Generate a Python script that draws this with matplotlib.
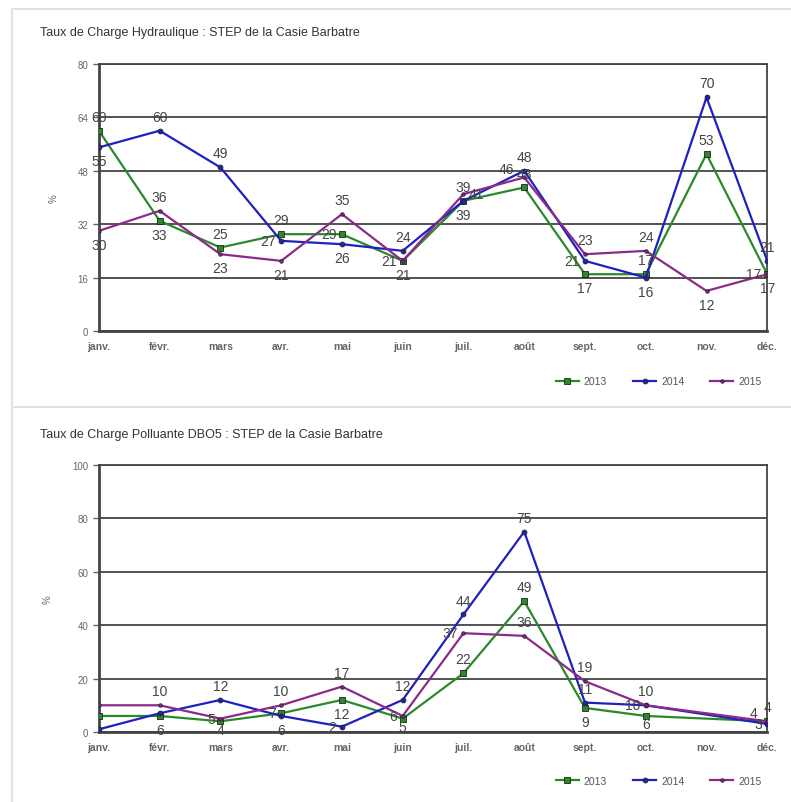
import matplotlib.pyplot as plt
import numpy as np
from matplotlib.lines import Line2D

plt.rcParams['font.family'] = ['Liberation Sans', 'DejaVu Sans']

mois = ['janv.', 'févr.', 'mars', 'avr.', 'mai', 'juin', 'juil.', 'août', 'sept.', 'oct.', 'nov.', 'déc.']
annees = ['2013', '2014', '2015']

# Taux de charge hydraulique (%)
hydro_2013 = [60, 33, 25, 29, 29, 21, 39, 43, 17, 17, 53, 17]
hydro_2014 = [55, 60, 49, 27, 26, 24, 39, 48, 21, 16, 70, 21]
hydro_2015 = [30, 36, 23, 21, 35, 21, 41, 46, 23, 24, 12, 17]

# Taux de charge polluante DBO5 (%) - pas de valeur en novembre
dbo_2013 = [6, 6, 4, 7, 12, 5, 22, 49, 9, 6, np.nan, 4]
dbo_2014 = [1, 7, 12, 6, 2, 12, 44, 75, 11, 10, np.nan, 3]
dbo_2015 = [10, 10, 5, 10, 17, 6, 37, 36, 19, 10, np.nan, 4]

colors = ['#2a8a2a', '#2020c0', '#8a2a8a']
markers = ['s', 'o', 'o']
msizes = [4, 3.5, 2.5]

# placement des etiquettes : a=dessus, b=dessous, l=gauche, r=droite,
# L=haut-gauche, B=dessous serre, n=aucune
place_hydro = ['abaallaabaab', 'baalbabalbaa', 'babbabrLaabl']
place_dbo = ['nbBlbBaabBnL', 'nnablaaaalnl', 'nalaallaaana']
offs = {'a': (0, 5, 'center', 'bottom'), 'b': (0, -5, 'center', 'top'),
        'l': (-4, 0, 'right', 'center'), 'r': (4, 0, 'left', 'center'),
        'L': (-7, 1, 'right', 'bottom'), 'B': (0, -1, 'center', 'top')}

x = np.arange(len(mois))

fig = plt.figure(figsize=(7.91, 8.03), dpi=100)


def panel(rect, series, ymax, step, title, ty, ly, places):
    ax = fig.add_axes(rect)
    for i, vals in enumerate(series):
        v = np.array(vals, dtype=float)
        m = ~np.isnan(v)
        ax.plot(x[m], v[m], color=colors[i], lw=1.6, marker=markers[i],
                ms=msizes[i], mfc=colors[i], mec='#222222', mew=0.6, zorder=3)
        for j in np.where(m)[0]:
            p = places[i][j]
            if p == 'n':
                continue
            dx, dy, ha, va = offs[p]
            ax.annotate(f'{int(v[j])}', (x[j], v[j]), xytext=(dx, dy),
                        textcoords='offset points', ha=ha, va=va,
                        fontsize=10, color='#444444', zorder=4)
    ax.set_xlim(0, 11)
    ax.set_ylim(0, ymax)
    ax.set_yticks(np.arange(0, ymax + 1, step))
    ax.yaxis.grid(True, color='#444444', lw=1.3)
    ax.set_axisbelow(True)
    ax.set_xticks(x)
    ax.set_xticklabels(mois, fontsize=7.5, fontweight='bold', color='#666666')
    ax.tick_params(axis='x', length=0, pad=7)
    ax.tick_params(axis='y', labelsize=7, colors='#666666', length=4, width=1)
    for s in ax.spines.values():
        s.set_color('#444444')
    ax.spines['left'].set_linewidth(2)
    ax.spines['bottom'].set_linewidth(2)
    ax.spines['right'].set_linewidth(1.3)
    ax.spines['top'].set_linewidth(1.3)
    ax.set_ylabel('%', fontsize=7, color='#666666', labelpad=14)
    fig.text(0.051, ty, title, fontsize=9, color='#333333', va='center')
    handles = [Line2D([], [], color=colors[i], lw=1.6, marker=markers[i],
                      ms=msizes[i], mec='#222222', mew=0.6) for i in range(3)]
    fig.legend(handles, annees, loc='center right', bbox_to_anchor=(0.975, ly),
               ncol=3, frameon=False, fontsize=7.5, handlelength=2.2,
               columnspacing=2.5, handletextpad=0.5, labelcolor='#555555')
    return ax


panel([0.125, 0.5866, 0.845, 0.3325], [hydro_2013, hydro_2014, hydro_2015], 80, 16,
      'Taux de Charge Hydraulique : STEP de la Casie Barbatre', 0.959, 0.524, place_hydro)
panel([0.125, 0.0872, 0.845, 0.3325], [dbo_2013, dbo_2014, dbo_2015], 100, 20,
      'Taux de Charge Polluante DBO5 : STEP de la Casie Barbatre', 0.458, 0.026, place_dbo)

# cadres gris clair des panneaux
fig.add_artist(Line2D([0.015, 1], [0.988, 0.988], color='#e2e2e2', lw=1.5))
fig.add_artist(Line2D([0.015, 1], [0.492, 0.492], color='#e2e2e2', lw=1.5))
fig.add_artist(Line2D([0.015, 0.015], [0, 0.988], color='#e2e2e2', lw=1.5))

fig.savefig('out.png', dpi=100)
